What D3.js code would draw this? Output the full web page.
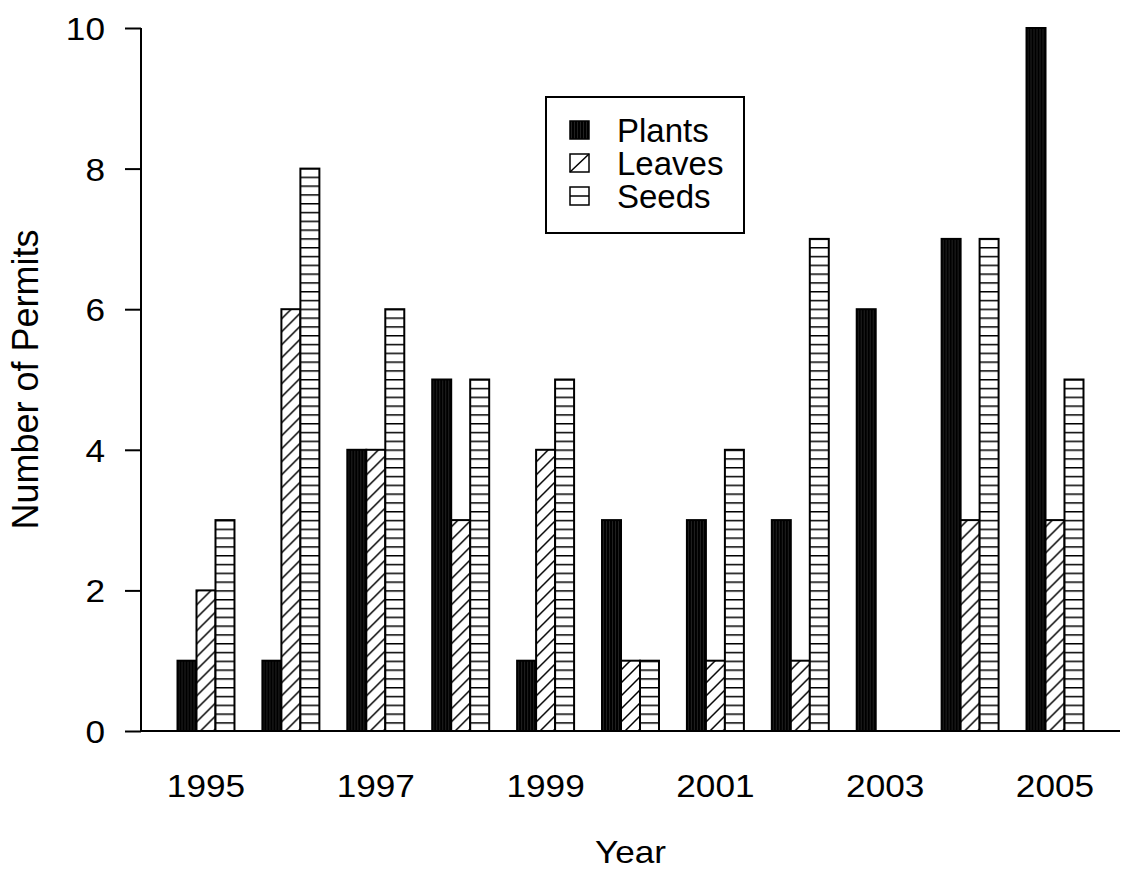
<!DOCTYPE html>
<html><head><meta charset="utf-8">
<script src="https://cdn.jsdelivr.net/npm/d3@7"></script>
<style>html,body{margin:0;padding:0;background:#fff}text{font-family:"Liberation Sans",Arial,sans-serif;fill:#000}</style>
</head><body>
<svg id="chart" width="1121" height="870"></svg>
<script>
const years = [1995,1996,1997,1998,1999,2000,2001,2002,2003,2004,2005];
const seriesNames = ["Plants","Leaves","Seeds"];
const plants = [1,1,4,5,1,3,3,3,6,7,10];
const leaves = [2,6,4,3,4,1,1,1,0,3,3];
const seeds  = [3,8,6,5,5,1,4,7,0,7,5];
const yTicks = [0,2,4,6,8,10];
const xTickLabels = ["1995","1997","1999","2001","2003","2005"];

(function(){
const svg = d3.select("#chart");
const mLeft = 141, mRight = 1120, mTop = 28, mBottom = 731;
const sx = 1.1;

const defs = svg.append("defs");
const p0 = defs.append("pattern").attr("id","pat0").attr("patternUnits","userSpaceOnUse").attr("width",3).attr("height",10);
p0.append("rect").attr("width",3).attr("height",10).attr("fill","#000");
p0.append("line").attr("x1",1.5).attr("x2",1.5).attr("y1",0).attr("y2",10).attr("stroke","#2a2a2a").attr("stroke-width",0.8);
const hs = 13;
const p1 = defs.append("pattern").attr("id","pat1").attr("patternUnits","userSpaceOnUse").attr("width",hs).attr("height",hs);
p1.append("rect").attr("width",hs).attr("height",hs).attr("fill","#fff");
p1.append("path").attr("d",`M0,${hs} L${hs},0 M-3,3 L3,-3 M${hs-3},${hs+3} L${hs+3},${hs-3}`).attr("stroke","#000").attr("stroke-width",1.5);
const vs = 8.8;
const p2 = defs.append("pattern").attr("id","pat2").attr("patternUnits","userSpaceOnUse").attr("width",10).attr("height",vs).attr("y",mBottom);
p2.append("rect").attr("width",10).attr("height",vs).attr("fill","#fff");
p2.append("line").attr("x1",0).attr("x2",10).attr("y1",0.75).attr("y2",0.75).attr("stroke","#000").attr("stroke-width",1.5);

const x0 = d3.scaleBand().domain(years).range([mLeft,mRight]).paddingInner(0.329).paddingOuter(0.43);
const x1 = d3.scaleBand().domain(seriesNames).range([0,x0.bandwidth()]).padding(0);
const y = d3.scaleLinear().domain([0,10]).range([mBottom,mTop]);

const data = years.map((yr,i)=>({year:yr, vals:[plants[i],leaves[i],seeds[i]]}));

svg.append("g").selectAll("g.grp").data(data).join("g").attr("class","grp")
 .attr("transform",d=>`translate(${x0(d.year)},0)`)
 .selectAll("rect").data(d=>d.vals.map((v,k)=>({k,v}))).join("rect")
 .attr("x",d=>x1(seriesNames[d.k]))
 .attr("width",x1.bandwidth())
 .attr("y",d=>y(d.v))
 .attr("height",d=>y(0)-y(d.v))
 .attr("fill",d=>`url(#pat${d.k})`)
 .attr("stroke","#000").attr("stroke-width",2);

const yAxis = d3.axisLeft(y).tickValues(yTicks).tickSize(16).tickPadding(18).tickFormat(d3.format("d"));
const ya = svg.append("g").attr("transform",`translate(${mLeft},0)`).call(yAxis);
ya.select(".domain").attr("stroke","#000").attr("stroke-width",2).attr("d",`M0,${mTop}V${mBottom}`);
ya.selectAll(".tick line").attr("stroke","#000").attr("stroke-width",2);
ya.selectAll(".tick text").attr("font-size",32).attr("font-family","Liberation Sans, Arial").attr("fill","#000")
  .attr("x",-36/sx).attr("dy","0.36em").attr("transform",`scale(${sx},1)`);

svg.append("line").attr("x1",mLeft).attr("x2",mRight).attr("y1",mBottom).attr("y2",mBottom).attr("stroke","#000").attr("stroke-width",2);
svg.append("g").selectAll("text").data(xTickLabels).join("text")
 .attr("transform",d=>`translate(${x0(+d)+x0.bandwidth()/2},797) scale(${sx},1)`)
 .attr("text-anchor","middle").attr("font-size",32).text(d=>d);

svg.append("text").attr("transform",`translate(${(mLeft+mRight)/2},863) scale(${sx},1)`).attr("text-anchor","middle").attr("font-size",32).text("Year");
svg.append("text").attr("transform",`translate(38,${(mTop+mBottom)/2}) rotate(-90)`).attr("text-anchor","middle").attr("font-size",36).text("Number of Permits");

const lg = svg.append("g");
lg.append("rect").attr("x",546).attr("y",97).attr("width",198).attr("height",136).attr("fill","#fff").attr("stroke","#000").attr("stroke-width",2);
const rows = lg.selectAll("g.row").data(seriesNames).join("g").attr("class","row")
 .attr("transform",(d,i)=>`translate(0,${130+i*33})`);
rows.append("rect").attr("x",570).attr("y",-9).attr("width",19).attr("height",18)
 .attr("fill",(d,i)=>i===0?"url(#pat0)":"#fff").attr("stroke","#000").attr("stroke-width",1.5);
rows.filter((d,i)=>i===1).append("line").attr("x1",570).attr("y1",9).attr("x2",589).attr("y2",-9).attr("stroke","#000").attr("stroke-width",1.5);
rows.filter((d,i)=>i===2).append("line").attr("x1",570).attr("y1",0).attr("x2",589).attr("y2",0).attr("stroke","#000").attr("stroke-width",1.5);
rows.append("text").attr("x",617).attr("y",0).attr("dy","0.36em").attr("font-size",33).text(d=>d);
})();
</script>
</body></html>
